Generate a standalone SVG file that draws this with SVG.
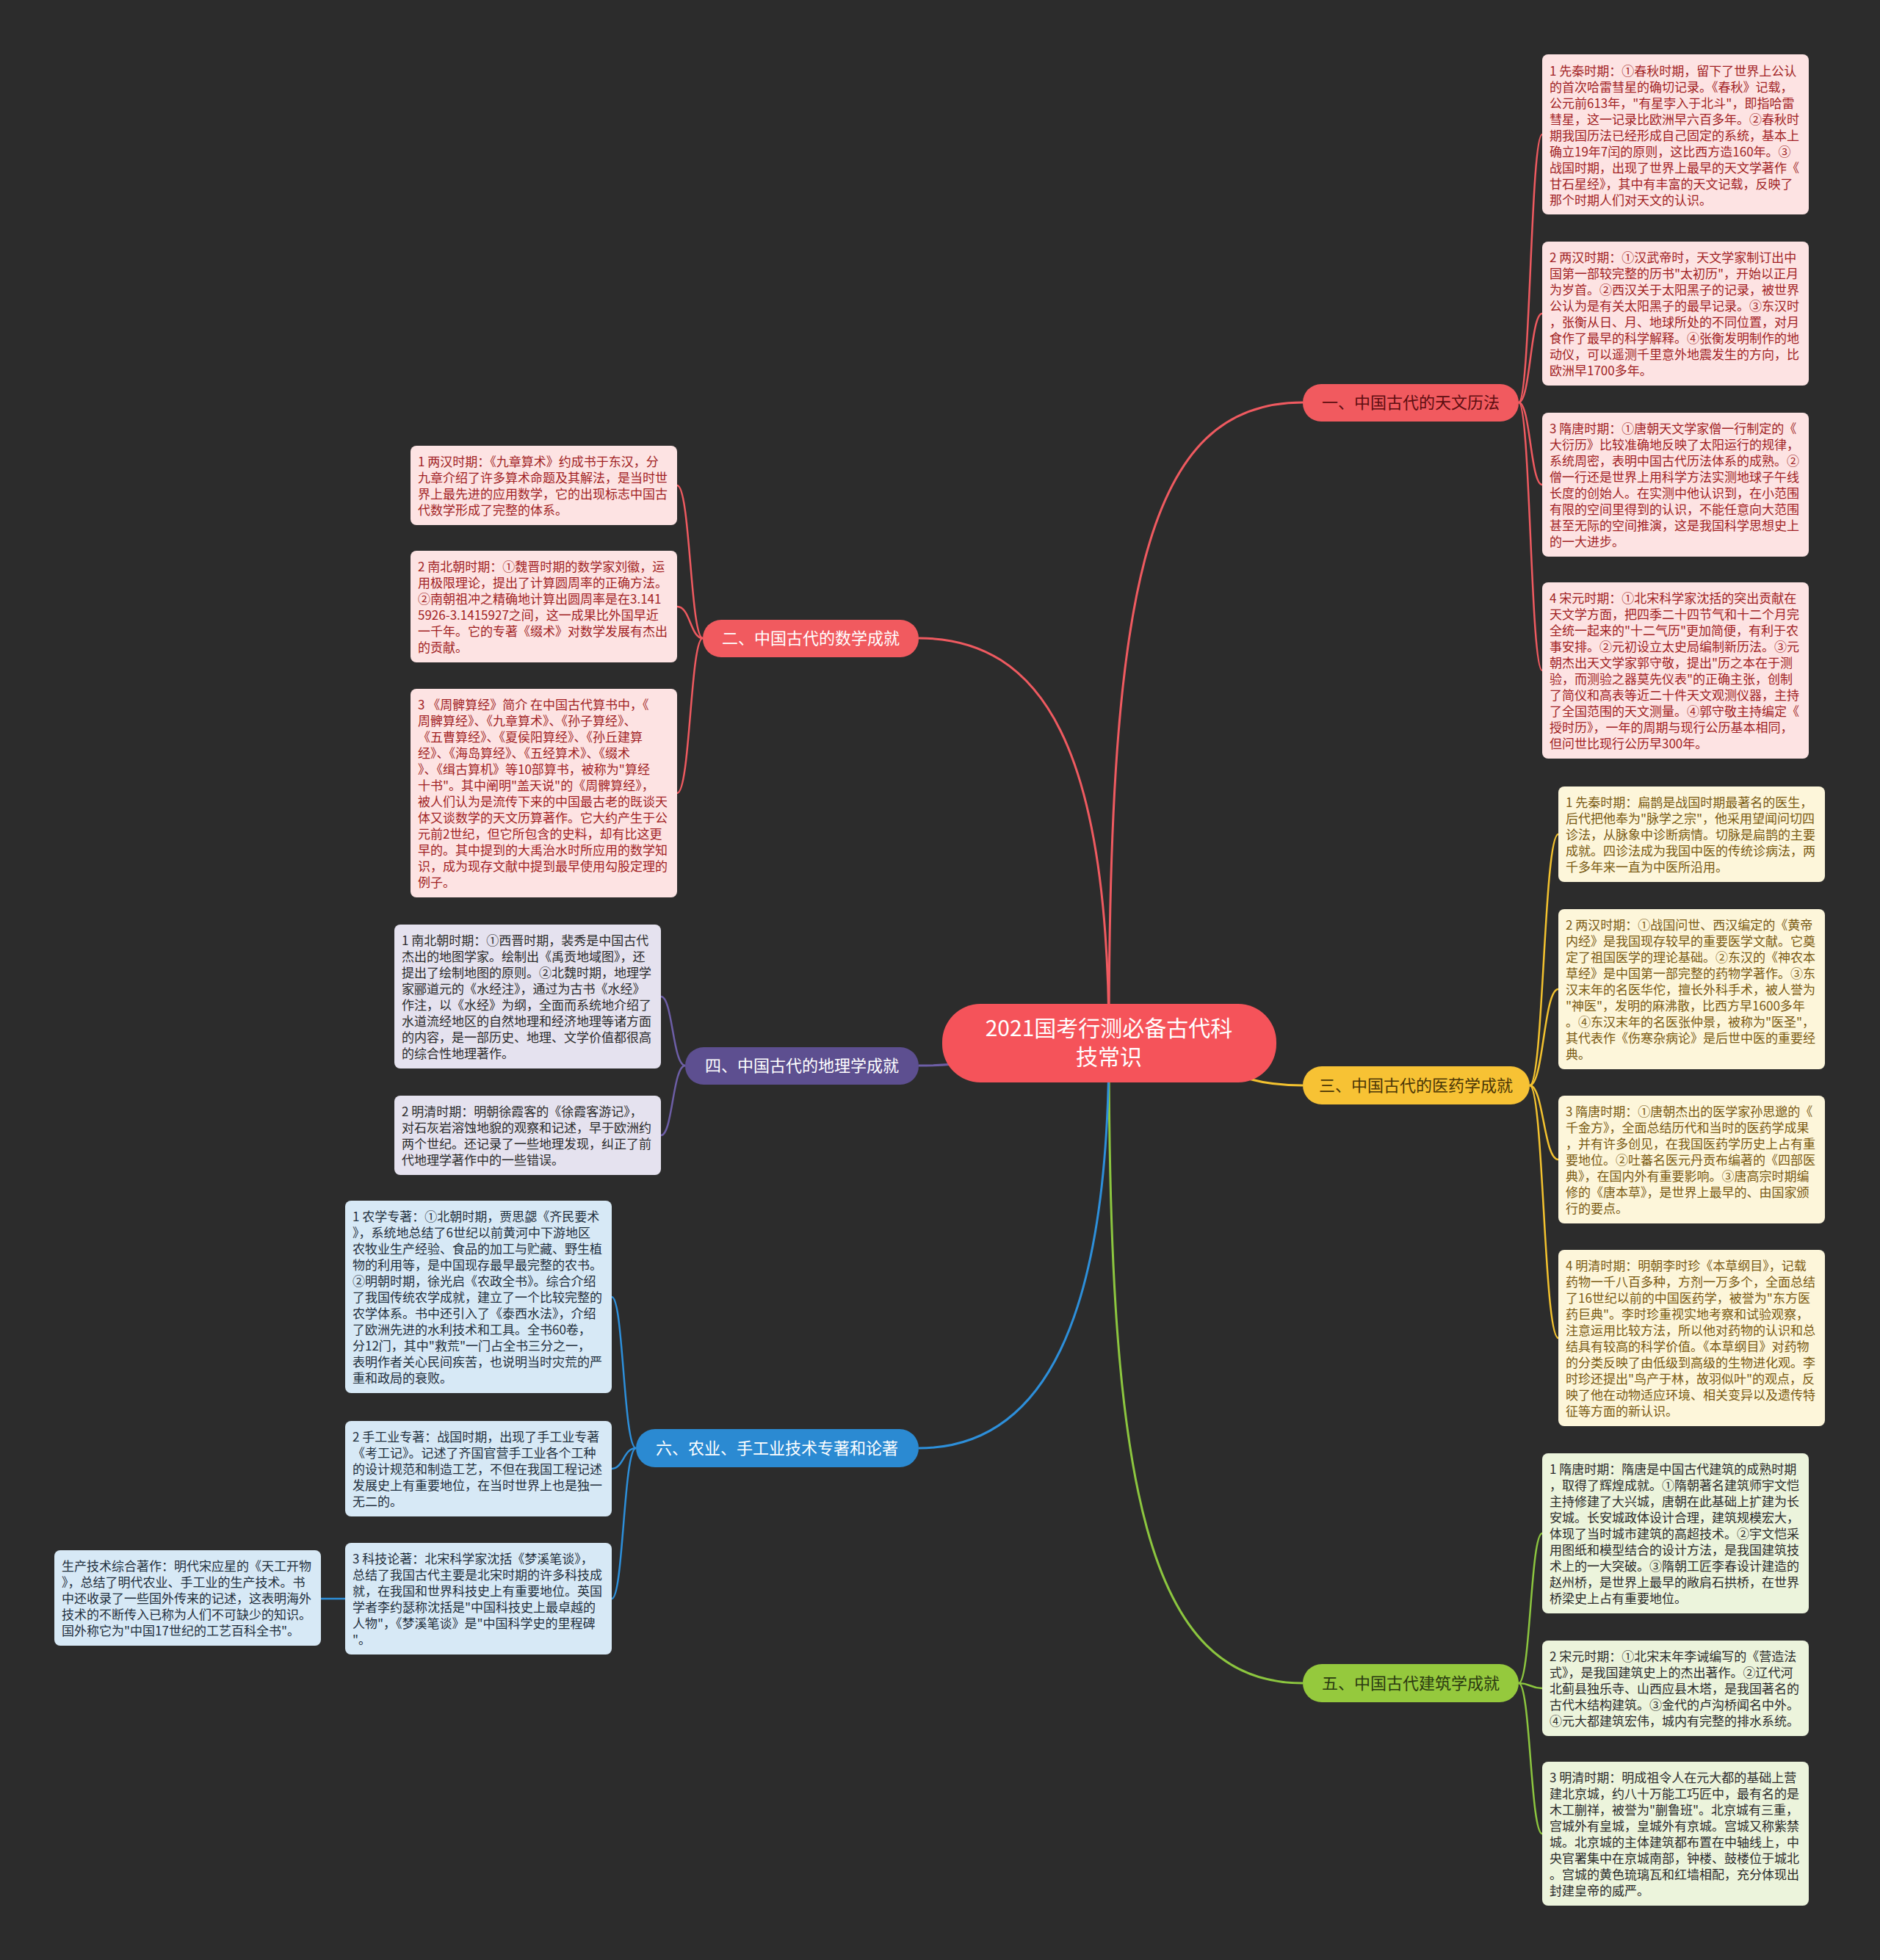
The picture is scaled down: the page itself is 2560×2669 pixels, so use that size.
<svg xmlns="http://www.w3.org/2000/svg" width="2560" height="2669" viewBox="0 0 2560 2669">
<style>
text{font-family:"Noto Sans CJK SC","Noto Sans",sans-serif;}
.bx{font-size:17px;}
.red rect{fill:#fde3e3;} .red text{fill:#a11f24;}
.yel rect{fill:#fdf6da;} .yel text{fill:#7a5a12;}
.grn rect{fill:#ecf4dc;} .grn text{fill:#2b2b2b;}
.pur rect{fill:#e5e2ef;} .pur text{fill:#2b2b2b;}
.blu rect{fill:#d7e9f6;} .blu text{fill:#1f2f3d;}
.br{font-size:22px;text-anchor:middle;}
.ln{fill:none;stroke-width:2.5;}
.main{fill:none;stroke-width:3;}
</style>
<rect width="2560" height="2669" fill="#2c2c2c"/>
<g id="connectors">
<path class="main" stroke="#ef5a60" d="M1510,1420 C1510,800 1560,548 1774,548"/>
<path class="main" stroke="#ef5a60" d="M1510,1420 C1510,1020 1420,869 1251,869"/>
<path class="main" stroke="#f3c22f" d="M1510,1420 C1650,1420 1650,1478 1774,1478"/>
<path class="main" stroke="#6d5ea6" d="M1510,1420 C1370,1420 1370,1451 1251,1451"/>
<path class="main" stroke="#8cc63f" d="M1510,1420 C1510,2020 1560,2292 1774,2292"/>
<path class="main" stroke="#2d8fda" d="M1510,1420 C1510,1800 1420,1972 1251,1972"/>
<g stroke="#ef5a60" class="ln">
<path class="ln" d="M2068,548 C2084,548 2084,183 2100,183"/>
<path class="ln" d="M2068,548 C2084,548 2084,427 2100,427"/>
<path class="ln" d="M2068,548 C2084,548 2084,660 2100,660"/>
<path class="ln" d="M2068,548 C2084,548 2084,913 2100,913"/>
<path class="ln" d="M957,869 C940,869 940,661 922,661"/>
<path class="ln" d="M957,869 C940,869 940,826 922,826"/>
<path class="ln" d="M957,869 C940,869 940,1080 922,1080"/>
</g>
<g stroke="#f3c22f" class="ln">
<path class="ln" d="M2083,1478 C2102,1478 2102,1136 2122,1136"/>
<path class="ln" d="M2083,1478 C2102,1478 2102,1347 2122,1347"/>
<path class="ln" d="M2083,1478 C2102,1478 2102,1579 2122,1579"/>
<path class="ln" d="M2083,1478 C2102,1478 2102,1822 2122,1822"/>
</g>
<g stroke="#8cc63f" class="ln">
<path class="ln" d="M2068,2292 C2084,2292 2084,2088 2100,2088"/>
<path class="ln" d="M2068,2292 C2084,2292 2084,2299 2100,2299"/>
<path class="ln" d="M2068,2292 C2084,2292 2084,2497 2100,2497"/>
</g>
<g stroke="#6d5ea6" class="ln">
<path class="ln" d="M933,1451 C916,1451 916,1357 900,1357"/>
<path class="ln" d="M933,1451 C916,1451 916,1546 900,1546"/>
</g>
<g stroke="#2d8fda" class="ln">
<path class="ln" d="M866,1972 C849,1972 849,1766 833,1766"/>
<path class="ln" d="M866,1972 C849,1972 849,2000 833,2000"/>
<path class="ln" d="M866,1972 C849,1972 849,2177 833,2177"/>
<path class="ln" d="M470,2177 L437,2177"/>
</g>
</g>

<g id="center">
<rect x="1283" y="1367" width="455" height="107" rx="52" fill="#f5535a"/>
<text x="1510" y="1411" font-size="30" text-anchor="middle" fill="#ffffff">2021国考行测必备古代科</text>
<text x="1510" y="1450" font-size="30" text-anchor="middle" fill="#ffffff">技常识</text>
</g>

<g id="branch1"><rect x="1774" y="523" width="294" height="51" rx="25" fill="#f15a5f"/><text class="br" x="1921" y="556" fill="#5c0d10">一、中国古代的天文历法</text></g>
<g id="branch2"><rect x="957" y="844" width="294" height="51" rx="25" fill="#f15a5f"/><text class="br" x="1104" y="877" fill="#ffffff">二、中国古代的数学成就</text></g>
<g id="branch3"><rect x="1774" y="1452" width="309" height="52" rx="26" fill="#f7c234"/><text class="br" x="1928" y="1486" fill="#4a3606">三、中国古代的医药学成就</text></g>
<g id="branch4"><rect x="933" y="1426" width="318" height="51" rx="25" fill="#5d4f90"/><text class="br" x="1092" y="1459" fill="#ffffff">四、中国古代的地理学成就</text></g>
<g id="branch5"><rect x="1774" y="2266" width="294" height="52" rx="26" fill="#95c93d"/><text class="br" x="1921" y="2300" fill="#2a3a10">五、中国古代建筑学成就</text></g>
<g id="branch6"><rect x="866" y="1946" width="385" height="52" rx="26" fill="#2b8ad2"/><text class="br" x="1058" y="1980" fill="#ffffff">六、农业、手工业技术专著和论著</text></g>

<g id="a1" class="red"><rect x="2100" y="74" width="363" height="218" rx="8"/>
<text class="bx" x="2110" y="103"><tspan x="2110">1 先秦时期：①春秋时期，留下了世界上公认</tspan><tspan x="2110" dy="22">的首次哈雷彗星的确切记录。《春秋》记载，</tspan><tspan x="2110" dy="22">公元前613年，"有星孛入于北斗"，即指哈雷</tspan><tspan x="2110" dy="22">彗星，这一记录比欧洲早六百多年。②春秋时</tspan><tspan x="2110" dy="22">期我国历法已经形成自己固定的系统，基本上</tspan><tspan x="2110" dy="22">确立19年7闰的原则，这比西方造160年。③</tspan><tspan x="2110" dy="22">战国时期，出现了世界上最早的天文学著作《</tspan><tspan x="2110" dy="22">甘石星经》，其中有丰富的天文记载，反映了</tspan><tspan x="2110" dy="22">那个时期人们对天文的认识。</tspan></text></g>

<g id="a2" class="red"><rect x="2100" y="329" width="363" height="196" rx="8"/>
<text class="bx" x="2110" y="357"><tspan x="2110">2 两汉时期：①汉武帝时，天文学家制订出中</tspan><tspan x="2110" dy="22">国第一部较完整的历书"太初历"，开始以正月</tspan><tspan x="2110" dy="22">为岁首。②西汉关于太阳黑子的记录，被世界</tspan><tspan x="2110" dy="22">公认为是有关太阳黑子的最早记录。③东汉时</tspan><tspan x="2110" dy="22">，张衡从日、月、地球所处的不同位置，对月</tspan><tspan x="2110" dy="22">食作了最早的科学解释。④张衡发明制作的地</tspan><tspan x="2110" dy="22">动仪，可以遥测千里意外地震发生的方向，比</tspan><tspan x="2110" dy="22">欧洲早1700多年。</tspan></text></g>

<g id="a3" class="red"><rect x="2100" y="562" width="363" height="196" rx="8"/>
<text class="bx" x="2110" y="590"><tspan x="2110">3 隋唐时期：①唐朝天文学家僧一行制定的《</tspan><tspan x="2110" dy="22">大衍历》比较准确地反映了太阳运行的规律，</tspan><tspan x="2110" dy="22">系统周密，表明中国古代历法体系的成熟。②</tspan><tspan x="2110" dy="22">僧一行还是世界上用科学方法实测地球子午线</tspan><tspan x="2110" dy="22">长度的创始人。在实测中他认识到，在小范围</tspan><tspan x="2110" dy="22">有限的空间里得到的认识，不能任意向大范围</tspan><tspan x="2110" dy="22">甚至无际的空间推演，这是我国科学思想史上</tspan><tspan x="2110" dy="22">的一大进步。</tspan></text></g>

<g id="a4" class="red"><rect x="2100" y="793" width="363" height="240" rx="8"/>
<text class="bx" x="2110" y="821"><tspan x="2110">4 宋元时期：①北宋科学家沈括的突出贡献在</tspan><tspan x="2110" dy="22">天文学方面，把四季二十四节气和十二个月完</tspan><tspan x="2110" dy="22">全统一起来的"十二气历"更加简便，有利于农</tspan><tspan x="2110" dy="22">事安排。②元初设立太史局编制新历法。③元</tspan><tspan x="2110" dy="22">朝杰出天文学家郭守敬，提出"历之本在于测</tspan><tspan x="2110" dy="22">验，而测验之器莫先仪表"的正确主张，创制</tspan><tspan x="2110" dy="22">了简仪和高表等近二十件天文观测仪器，主持</tspan><tspan x="2110" dy="22">了全国范围的天文测量。④郭守敬主持编定《</tspan><tspan x="2110" dy="22">授时历》，一年的周期与现行公历基本相同，</tspan><tspan x="2110" dy="22">但问世比现行公历早300年。</tspan></text></g>

<g id="m1" class="yel"><rect x="2122" y="1071" width="363" height="130" rx="8"/>
<text class="bx" x="2132" y="1099"><tspan x="2132">1 先秦时期：扁鹊是战国时期最著名的医生，</tspan><tspan x="2132" dy="22">后代把他奉为"脉学之宗"，他采用望闻问切四</tspan><tspan x="2132" dy="22">诊法，从脉象中诊断病情。切脉是扁鹊的主要</tspan><tspan x="2132" dy="22">成就。四诊法成为我国中医的传统诊病法，两</tspan><tspan x="2132" dy="22">千多年来一直为中医所沿用。</tspan></text></g>

<g id="m2" class="yel"><rect x="2122" y="1238" width="363" height="218" rx="8"/>
<text class="bx" x="2132" y="1266"><tspan x="2132">2 两汉时期：①战国问世、西汉编定的《黄帝</tspan><tspan x="2132" dy="22">内经》是我国现存较早的重要医学文献。它奠</tspan><tspan x="2132" dy="22">定了祖国医学的理论基础。②东汉的《神农本</tspan><tspan x="2132" dy="22">草经》是中国第一部完整的药物学著作。③东</tspan><tspan x="2132" dy="22">汉末年的名医华佗，擅长外科手术，被人誉为</tspan><tspan x="2132" dy="22">"神医"，发明的麻沸散，比西方早1600多年</tspan><tspan x="2132" dy="22">。④东汉末年的名医张仲景，被称为"医圣"，</tspan><tspan x="2132" dy="22">其代表作《伤寒杂病论》是后世中医的重要经</tspan><tspan x="2132" dy="22">典。</tspan></text></g>

<g id="m3" class="yel"><rect x="2122" y="1492" width="363" height="174" rx="8"/>
<text class="bx" x="2132" y="1520"><tspan x="2132">3 隋唐时期：①唐朝杰出的医学家孙思邈的《</tspan><tspan x="2132" dy="22">千金方》，全面总结历代和当时的医药学成果</tspan><tspan x="2132" dy="22">，并有许多创见，在我国医药学历史上占有重</tspan><tspan x="2132" dy="22">要地位。②吐蕃名医元丹贡布编著的《四部医</tspan><tspan x="2132" dy="22">典》，在国内外有重要影响。③唐高宗时期编</tspan><tspan x="2132" dy="22">修的《唐本草》，是世界上最早的、由国家颁</tspan><tspan x="2132" dy="22">行的要点。</tspan></text></g>

<g id="m4" class="yel"><rect x="2122" y="1702" width="363" height="240" rx="8"/>
<text class="bx" x="2132" y="1730"><tspan x="2132">4 明清时期：明朝李时珍《本草纲目》，记载</tspan><tspan x="2132" dy="22">药物一千八百多种，方剂一万多个，全面总结</tspan><tspan x="2132" dy="22">了16世纪以前的中国医药学，被誉为"东方医</tspan><tspan x="2132" dy="22">药巨典"。李时珍重视实地考察和试验观察，</tspan><tspan x="2132" dy="22">注意运用比较方法，所以他对药物的认识和总</tspan><tspan x="2132" dy="22">结具有较高的科学价值。《本草纲目》对药物</tspan><tspan x="2132" dy="22">的分类反映了由低级到高级的生物进化观。李</tspan><tspan x="2132" dy="22">时珍还提出"鸟产于林，故羽似叶"的观点，反</tspan><tspan x="2132" dy="22">映了他在动物适应环境、相关变异以及遗传特</tspan><tspan x="2132" dy="22">征等方面的新认识。</tspan></text></g>

<g id="r1" class="grn"><rect x="2100" y="1979" width="363" height="218" rx="8"/>
<text class="bx" x="2110" y="2007"><tspan x="2110">1 隋唐时期：隋唐是中国古代建筑的成熟时期</tspan><tspan x="2110" dy="22">，取得了辉煌成就。①隋朝著名建筑师宇文恺</tspan><tspan x="2110" dy="22">主持修建了大兴城，唐朝在此基础上扩建为长</tspan><tspan x="2110" dy="22">安城。长安城政体设计合理，建筑规模宏大，</tspan><tspan x="2110" dy="22">体现了当时城市建筑的高超技术。②宇文恺采</tspan><tspan x="2110" dy="22">用图纸和模型结合的设计方法，是我国建筑技</tspan><tspan x="2110" dy="22">术上的一大突破。③隋朝工匠李春设计建造的</tspan><tspan x="2110" dy="22">赵州桥，是世界上最早的敞肩石拱桥，在世界</tspan><tspan x="2110" dy="22">桥梁史上占有重要地位。</tspan></text></g>

<g id="r2" class="grn"><rect x="2100" y="2234" width="363" height="130" rx="8"/>
<text class="bx" x="2110" y="2262"><tspan x="2110">2 宋元时期：①北宋末年李诫编写的《营造法</tspan><tspan x="2110" dy="22">式》，是我国建筑史上的杰出著作。②辽代河</tspan><tspan x="2110" dy="22">北蓟县独乐寺、山西应县木塔，是我国著名的</tspan><tspan x="2110" dy="22">古代木结构建筑。③金代的卢沟桥闻名中外。</tspan><tspan x="2110" dy="22">④元大都建筑宏伟，城内有完整的排水系统。</tspan></text></g>

<g id="r3" class="grn"><rect x="2100" y="2399" width="363" height="196" rx="8"/>
<text class="bx" x="2110" y="2427"><tspan x="2110">3 明清时期：明成祖令人在元大都的基础上营</tspan><tspan x="2110" dy="22">建北京城，约八十万能工巧匠中，最有名的是</tspan><tspan x="2110" dy="22">木工蒯祥，被誉为"蒯鲁班"。北京城有三重，</tspan><tspan x="2110" dy="22">宫城外有皇城，皇城外有京城。宫城又称紫禁</tspan><tspan x="2110" dy="22">城。北京城的主体建筑都布置在中轴线上，中</tspan><tspan x="2110" dy="22">央官署集中在京城南部，钟楼、鼓楼位于城北</tspan><tspan x="2110" dy="22">。宫城的黄色琉璃瓦和红墙相配，充分体现出</tspan><tspan x="2110" dy="22">封建皇帝的威严。</tspan></text></g>

<g id="l1" class="red"><rect x="559" y="607" width="363" height="108" rx="8"/>
<text class="bx" x="569" y="635"><tspan x="569">1 两汉时期：《九章算术》约成书于东汉，分</tspan><tspan x="569" dy="22">九章介绍了许多算术命题及其解法，是当时世</tspan><tspan x="569" dy="22">界上最先进的应用数学，它的出现标志中国古</tspan><tspan x="569" dy="22">代数学形成了完整的体系。</tspan></text></g>

<g id="l2" class="red"><rect x="559" y="750" width="363" height="152" rx="8"/>
<text class="bx" x="569" y="778"><tspan x="569">2 南北朝时期：①魏晋时期的数学家刘徽，运</tspan><tspan x="569" dy="22">用极限理论，提出了计算圆周率的正确方法。</tspan><tspan x="569" dy="22">②南朝祖冲之精确地计算出圆周率是在3.141</tspan><tspan x="569" dy="22">5926-3.1415927之间，这一成果比外国早近</tspan><tspan x="569" dy="22">一千年。它的专著《缀术》对数学发展有杰出</tspan><tspan x="569" dy="22">的贡献。</tspan></text></g>

<g id="l3" class="red"><rect x="559" y="938" width="363" height="284" rx="8"/>
<text class="bx" x="569" y="966"><tspan x="569">3 《周髀算经》简介 在中国古代算书中，《</tspan><tspan x="569" dy="22">周髀算经》、《九章算术》、《孙子算经》、</tspan><tspan x="569" dy="22">《五曹算经》、《夏侯阳算经》、《孙丘建算</tspan><tspan x="569" dy="22">经》、《海岛算经》、《五经算术》、《缀术</tspan><tspan x="569" dy="22">》、《缉古算机》等10部算书，被称为"算经</tspan><tspan x="569" dy="22">十书"。其中阐明"盖天说"的《周髀算经》，</tspan><tspan x="569" dy="22">被人们认为是流传下来的中国最古老的既谈天</tspan><tspan x="569" dy="22">体又谈数学的天文历算著作。它大约产生于公</tspan><tspan x="569" dy="22">元前2世纪，但它所包含的史料，却有比这更</tspan><tspan x="569" dy="22">早的。其中提到的大禹治水时所应用的数学知</tspan><tspan x="569" dy="22">识，成为现存文献中提到最早使用勾股定理的</tspan><tspan x="569" dy="22">例子。</tspan></text></g>

<g id="g1" class="pur"><rect x="537" y="1259" width="363" height="196" rx="8"/>
<text class="bx" x="547" y="1287"><tspan x="547">1 南北朝时期：①西晋时期，裴秀是中国古代</tspan><tspan x="547" dy="22">杰出的地图学家。绘制出《禹贡地域图》，还</tspan><tspan x="547" dy="22">提出了绘制地图的原则。②北魏时期，地理学</tspan><tspan x="547" dy="22">家郦道元的《水经注》，通过为古书《水经》</tspan><tspan x="547" dy="22">作注，以《水经》为纲，全面而系统地介绍了</tspan><tspan x="547" dy="22">水道流经地区的自然地理和经济地理等诸方面</tspan><tspan x="547" dy="22">的内容，是一部历史、地理、文学价值都很高</tspan><tspan x="547" dy="22">的综合性地理著作。</tspan></text></g>

<g id="g2" class="pur"><rect x="537" y="1492" width="363" height="108" rx="8"/>
<text class="bx" x="547" y="1520"><tspan x="547">2 明清时期：明朝徐霞客的《徐霞客游记》，</tspan><tspan x="547" dy="22">对石灰岩溶蚀地貌的观察和记述，早于欧洲约</tspan><tspan x="547" dy="22">两个世纪。还记录了一些地理发现，纠正了前</tspan><tspan x="547" dy="22">代地理学著作中的一些错误。</tspan></text></g>

<g id="b1" class="blu"><rect x="470" y="1635" width="363" height="262" rx="8"/>
<text class="bx" x="480" y="1663"><tspan x="480">1 农学专著：①北朝时期，贾思勰《齐民要术</tspan><tspan x="480" dy="22">》，系统地总结了6世纪以前黄河中下游地区</tspan><tspan x="480" dy="22">农牧业生产经验、食品的加工与贮藏、野生植</tspan><tspan x="480" dy="22">物的利用等，是中国现存最早最完整的农书。</tspan><tspan x="480" dy="22">②明朝时期，徐光启《农政全书》。综合介绍</tspan><tspan x="480" dy="22">了我国传统农学成就，建立了一个比较完整的</tspan><tspan x="480" dy="22">农学体系。书中还引入了《泰西水法》，介绍</tspan><tspan x="480" dy="22">了欧洲先进的水利技术和工具。全书60卷，</tspan><tspan x="480" dy="22">分12门，其中"救荒"一门占全书三分之一，</tspan><tspan x="480" dy="22">表明作者关心民间疾苦，也说明当时灾荒的严</tspan><tspan x="480" dy="22">重和政局的衰败。</tspan></text></g>

<g id="b2" class="blu"><rect x="470" y="1935" width="363" height="130" rx="8"/>
<text class="bx" x="480" y="1963"><tspan x="480">2 手工业专著：战国时期，出现了手工业专著</tspan><tspan x="480" dy="22">《考工记》。记述了齐国官营手工业各个工种</tspan><tspan x="480" dy="22">的设计规范和制造工艺，不但在我国工程记述</tspan><tspan x="480" dy="22">发展史上有重要地位，在当时世界上也是独一</tspan><tspan x="480" dy="22">无二的。</tspan></text></g>

<g id="b3" class="blu"><rect x="470" y="2101" width="363" height="152" rx="8"/>
<text class="bx" x="480" y="2129"><tspan x="480">3 科技论著：北宋科学家沈括《梦溪笔谈》，</tspan><tspan x="480" dy="22">总结了我国古代主要是北宋时期的许多科技成</tspan><tspan x="480" dy="22">就，在我国和世界科技史上有重要地位。英国</tspan><tspan x="480" dy="22">学者李约瑟称沈括是"中国科技史上最卓越的</tspan><tspan x="480" dy="22">人物"，《梦溪笔谈》是"中国科学史的里程碑</tspan><tspan x="480" dy="22">"。</tspan></text></g>

<g id="f1" class="blu"><rect x="74" y="2111" width="363" height="130" rx="8"/>
<text class="bx" x="84" y="2139"><tspan x="84">生产技术综合著作：明代宋应星的《天工开物</tspan><tspan x="84" dy="22">》，总结了明代农业、手工业的生产技术。书</tspan><tspan x="84" dy="22">中还收录了一些国外传来的记述，这表明海外</tspan><tspan x="84" dy="22">技术的不断传入已称为人们不可缺少的知识。</tspan><tspan x="84" dy="22">国外称它为"中国17世纪的工艺百科全书"。</tspan></text></g>
</svg>
